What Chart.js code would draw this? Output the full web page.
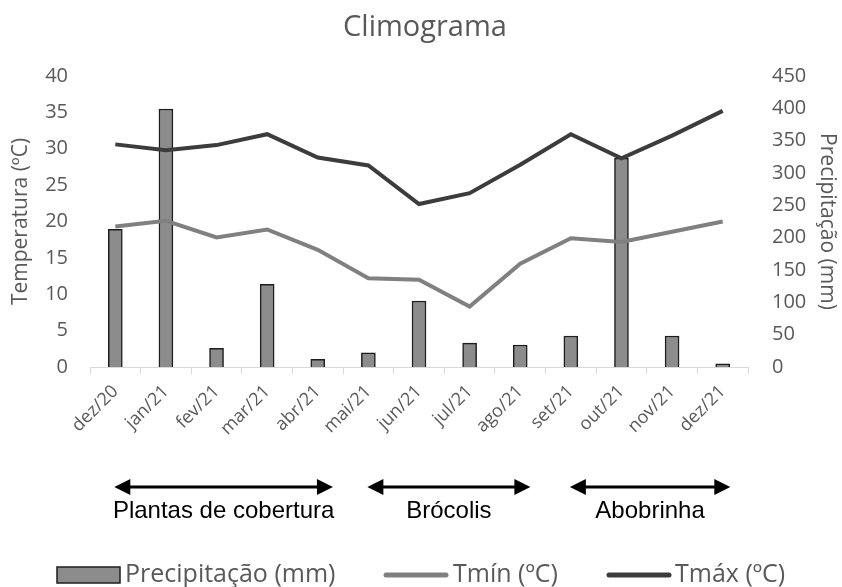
<!DOCTYPE html>
<html>
<head>
<meta charset="utf-8">
<script src="https://cdn.jsdelivr.net/npm/chart.js@4.4.1/dist/chart.umd.min.js"></script>
<style>
  html, body { margin: 0; padding: 0; background: #fff; }
</style>
</head>
<body>
<canvas id="myChart" width="842" height="587"></canvas>
<script>
const months = ['dez/20', 'jan/21', 'fev/21', 'mar/21', 'abr/21', 'mai/21', 'jun/21',
                'jul/21', 'ago/21', 'set/21', 'out/21', 'nov/21', 'dez/21']
const precip = [213, 399, 29, 128, 12, 22, 102, 37, 34, 48, 323, 48, 5]
const tmin = [19.3, 20.1, 17.8, 18.9, 16.1, 12.2, 12.0, 8.3, 14.2, 17.7, 17.2, 18.6, 20.0]
const tmax = [30.6, 29.8, 30.5, 32.0, 28.8, 27.7, 22.4, 23.9, 27.8, 32.0, 28.7, 31.8, 35.2]
const crops = ['Plantas de cobertura', 'Brócolis', 'Abobrinha']
// start / end of each crop period, in category units
const cropFrom = [0, 5, 9]
const cropTo = [4.3, 8.2, 12.15]

const grey = '#595959'
const font = 'Open Sans'

// title, crop arrows and legend
const extras = {
    id: 'extras',
    afterDraw(chart) {
        const c = chart.ctx
        const x = chart.scales.x
        c.save()
        c.fillStyle = grey
        c.font = '29px "' + font + '"'
        c.textAlign = 'center'
        c.textBaseline = 'middle'
        c.fillText('Climograma', 425, 28)

        // arrows
        const ay = 487
        c.strokeStyle = '#000'
        c.fillStyle = '#000'
        c.lineWidth = 3
        crops.forEach((name, i) => {
            const x0 = x.getPixelForValue(cropFrom[i]) - 1
            const x1 = x.getPixelForValue(cropTo[i])
            c.beginPath()
            c.moveTo(x0 + 10, ay)
            c.lineTo(x1 - 10, ay)
            c.stroke()
            c.beginPath()
            c.moveTo(x0, ay); c.lineTo(x0 + 16, ay - 8); c.lineTo(x0 + 16, ay + 8); c.closePath()
            c.fill()
            c.beginPath()
            c.moveTo(x1, ay); c.lineTo(x1 - 16, ay - 8); c.lineTo(x1 - 16, ay + 8); c.closePath()
            c.fill()
            c.font = '24px "Liberation Sans"'
            c.fillText(name, (x0 + x1) / 2, 511)
        })

        // legend
        const ds = chart.data.datasets
        const ly = 575
        c.font = '25px "' + font + '"'
        c.textAlign = 'left'
        c.fillStyle = ds[2].backgroundColor
        c.fillRect(57, 567, 63, 16)
        c.strokeStyle = ds[2].borderColor
        c.lineWidth = 1.5
        c.strokeRect(57, 567, 63, 16)
        c.fillStyle = grey
        c.fillText(ds[2].label, 125, ly)

        const lineItems = [[ds[0], 384, 453], [ds[1], 607, 675]]
        lineItems.forEach(([d, sx, tx]) => {
            c.strokeStyle = d.borderColor
            c.lineWidth = 5
            c.lineCap = 'round'
            c.beginPath()
            c.moveTo(sx + 2, ly)
            c.lineTo(sx + 62, ly)
            c.stroke()
            c.fillStyle = grey
            c.fillText(d.label, tx, ly)
        })
        c.restore()
    }
}

new Chart(document.getElementById('myChart'), {
    data: {
        labels: months,
        datasets: [
            {
                type: 'line',
                label: 'Tmín (ºC)',
                data: tmin,
                yAxisID: 'y',
                borderColor: '#808080',
                borderWidth: 4,
                pointRadius: 0,
                tension: 0,
                order: 2
            },
            {
                type: 'line',
                label: 'Tmáx (ºC)',
                data: tmax,
                yAxisID: 'y',
                borderColor: '#3c3c3c',
                borderWidth: 4,
                pointRadius: 0,
                tension: 0,
                order: 1
            },
            {
                type: 'bar',
                label: 'Precipitação (mm)',
                data: precip,
                yAxisID: 'y1',
                backgroundColor: '#8c8c8c',
                borderColor: '#1e1e1e',
                borderWidth: 1.5,
                barThickness: 14,
                order: 3
            }
        ]
    },
    options: {
        responsive: false,
        animation: false,
        layout: { padding: { top: 76, left: 0, right: 0, bottom: 0 } },
        plugins: {
            legend: { display: false },
            tooltip: { enabled: false }
        },
        scales: {
            x: {
                grid: { offset: true, drawOnChartArea: false, tickLength: 7, color: '#d9d9d9' },
                border: { color: '#d9d9d9' },
                ticks: {
                    minRotation: 45, maxRotation: 45, padding: 7,
                    color: grey, font: { family: font, size: 18 }
                },
                afterFit: s => { s.height = 220 }
            },
            y: {
                position: 'left',
                min: 0, max: 40,
                grid: { display: false },
                border: { display: false },
                ticks: { stepSize: 5, padding: 14, color: grey, font: { family: font, size: 20 } },
                title: {
                    display: true, text: 'Temperatura (ºC)', color: grey,
                    font: { family: font, size: 21 }, padding: { top: 8, bottom: 0 }
                },
                afterFit: s => { s.width = 90 }
            },
            y1: {
                position: 'right',
                min: 0, max: 450,
                grid: { display: false },
                border: { display: false },
                ticks: { stepSize: 50, padding: 16, color: grey, font: { family: font, size: 20 } },
                title: {
                    display: true, text: 'Precipitação (mm)', color: grey,
                    font: { family: font, size: 21 }, padding: { top: 2, bottom: 0 }
                },
                afterFit: s => { s.width = 94 }
            }
        }
    },
    plugins: [extras]
})
</script>
</body>
</html>
